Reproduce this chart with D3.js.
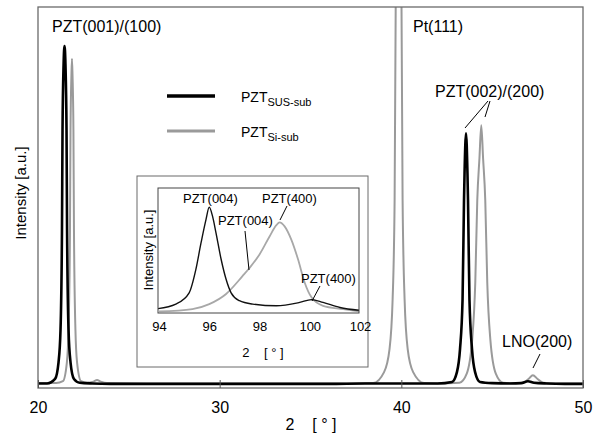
<!DOCTYPE html>
<html>
<head>
<meta charset="utf-8">
<script src="https://cdn.jsdelivr.net/npm/d3@7"></script>
<style>
  html, body { margin: 0; padding: 0; background: #fff; }
  svg { display: block; font-family: "Liberation Sans", Arial, sans-serif; }
</style>
</head>
<body>
<svg id="chart" width="596" height="434"></svg>
<script>
// ---------- main chart data (2θ in degrees, intensity in a.u.) ----------
const xTicks = [20, 30, 40, 50];
const susTheta = [20.0, 20.5, 20.94, 21.13, 21.24, 21.32, 21.35, 21.41, 21.46, 21.51, 21.57, 21.60, 21.68, 21.79, 21.98, 22.3, 23.0, 24, 26, 28, 30, 32, 34, 36, 38, 40, 42, 42.79, 43.06, 43.23, 43.37, 43.45, 43.48, 43.56, 43.64, 43.67, 43.75, 43.89, 44.06, 44.33, 45, 46, 46.6, 46.97, 47.3, 48, 49, 50];
const susInt   = [4, 4, 16, 60, 147, 410, 674, 850, 897, 850, 674, 410, 147, 60, 16, 6, 4, 3, 3, 3, 3, 3, 3, 3, 4, 4, 4, 8, 34, 95, 226, 489, 560, 666, 560, 489, 226, 95, 34, 8, 5, 4, 5, 10, 6, 4, 3, 3];
const siTheta  = [20.0, 21.0, 21.37, 21.59, 21.68, 21.76, 21.79, 21.84, 21.87, 21.90, 21.95, 21.98, 22.06, 22.15, 22.37, 22.7, 23.05, 23.25, 23.45, 23.8, 26, 30, 34, 37, 38.45, 39.05, 39.35, 39.52, 39.63, 39.69, 39.75, 39.85, 39.95, 40.01, 40.07, 40.18, 40.35, 40.65, 41.25, 42, 43.2, 43.6, 43.9, 44.07, 44.18, 44.3, 44.4, 44.5, 44.62, 44.73, 44.9, 45.2, 45.6, 46.3, 46.7, 47.0, 47.24, 47.5, 47.8, 48.5, 50];
const siInt    = [5, 5, 10, 60, 147, 410, 674, 820, 863, 820, 674, 410, 147, 60, 10, 6, 9, 13, 9, 5, 4, 4, 4, 4, 5, 34, 95, 226, 489, 1000, 1800, 3000, 1800, 1000, 489, 226, 95, 34, 5, 4, 6, 30, 120, 271, 489, 600, 687, 600, 489, 271, 120, 30, 6, 5, 6, 16, 26, 16, 6, 4, 4];

// ---------- inset data ----------
const insetTicks = [94, 96, 98, 100, 102];
const inSusTheta = [93.95, 94.67, 95.2, 95.47, 95.67, 95.87, 96.0, 96.13, 96.27, 96.47, 96.67, 96.87, 97.2, 97.73, 98.67, 99.6, 100.07, 100.53, 101.2, 101.96];
const inSusInt   = [3, 7, 17, 38, 61, 82, 93, 85, 70, 47, 29, 17, 10, 7, 5.5, 8.5, 11, 8.5, 4, 1.5];
const inSiTheta  = [94.0, 95.33, 96.0, 96.67, 97.33, 97.6, 98.0, 98.4, 98.67, 98.8, 99.0, 99.27, 99.53, 99.8, 100.07, 100.53, 101.33, 101.96];
const inSiInt    = [0.5, 2.6, 7, 16, 32, 39, 51, 67, 77, 79.5, 76, 64, 47, 26, 13, 5.5, 2.6, 0.5];

const labels = {
  legendSus: ["PZT", "SUS-sub"],
  legendSi: ["PZT", "Si-sub"]
};

const BLACK = "#000";
const GRAY = "#9a9a9a";
const FRAME = "#6a6a6a";

const svg = d3.select("#chart");

// ---------- main layout ----------
const M = { left: 38, right: 583, top: 7, bottom: 388 };
const x = d3.scaleLinear().domain([20, 50]).range([M.left, M.right]);
const y = d3.scaleLinear().domain([0, 1000]).range([385, M.top]);

svg.append("clipPath").attr("id", "mainClip")
  .append("rect").attr("x", M.left).attr("y", M.top)
  .attr("width", M.right - M.left).attr("height", M.bottom - M.top);

const line = d3.line().x(d => x(d[0])).y(d => y(d[1])).curve(d3.curveMonotoneX);
const si = siTheta.map((t, i) => [t, siInt[i]]);
const sus = susTheta.map((t, i) => [t, susInt[i]]);

const g = svg.append("g").attr("clip-path", "url(#mainClip)");
g.append("path").datum(si).attr("d", line)
  .attr("fill", "none").attr("stroke", GRAY).attr("stroke-width", 2).attr("stroke-linejoin", "round");
g.append("path").datum(sus).attr("d", line)
  .attr("fill", "none").attr("stroke", BLACK).attr("stroke-width", 2.6).attr("stroke-linejoin", "round");

// frame
svg.append("rect").attr("x", M.left).attr("y", M.top)
  .attr("width", M.right - M.left).attr("height", M.bottom - M.top)
  .attr("fill", "none").attr("stroke", FRAME).attr("stroke-width", 1.3);

// x axis
const xAxis = d3.axisBottom(x).tickValues(xTicks).tickSizeInner(-8).tickSizeOuter(0).tickPadding(14);
const ax = svg.append("g").attr("transform", `translate(0,${M.bottom})`).call(xAxis);
ax.select(".domain").remove();
ax.selectAll(".tick line").attr("stroke", "#555");
ax.selectAll(".tick text").attr("font-size", 16).attr("fill", "#000")
  .attr("font-family", "'Liberation Sans', Arial, sans-serif");

// axis titles
svg.append("text").attr("x", 311).attr("y", 430).attr("text-anchor", "middle")
  .attr("font-size", 16).attr("xml:space", "preserve").style("white-space", "pre")
  .text("2    [ ° ]");
svg.append("text").attr("transform", "translate(26,193) rotate(-90)")
  .attr("text-anchor", "middle").attr("font-size", 15).text("Intensity [a.u.]");

// peak labels
svg.append("text").attr("x", 52).attr("y", 32).attr("font-size", 16).text("PZT(001)/(100)");
svg.append("text").attr("x", 413).attr("y", 32).attr("font-size", 16).text("Pt(111)");
svg.append("text").attr("x", 435).attr("y", 97).attr("font-size", 16).text("PZT(002)/(200)");
svg.append("text").attr("x", 502).attr("y", 347).attr("font-size", 16).text("LNO(200)");
const leaders = [[488, 101, 465, 128], [490, 101, 485, 117], [540, 354, 533, 368]];
svg.selectAll("line.lead").data(leaders).enter().append("line").attr("class", "lead")
  .attr("x1", d => d[0]).attr("y1", d => d[1]).attr("x2", d => d[2]).attr("y2", d => d[3])
  .attr("stroke", "#000").attr("stroke-width", 1);

// legend
const leg = [
  { y: 96, color: BLACK, w: 3.5, txt: labels.legendSus },
  { y: 131, color: GRAY, w: 3, txt: labels.legendSi }
];
leg.forEach(l => {
  svg.append("line").attr("x1", 167).attr("x2", 215).attr("y1", l.y).attr("y2", l.y)
    .attr("stroke", l.color).attr("stroke-width", l.w);
  const t = svg.append("text").attr("x", 241).attr("y", l.y + 6).attr("font-size", 14);
  t.append("tspan").text(l.txt[0]);
  t.append("tspan").attr("dy", 4).attr("font-size", 11).text(l.txt[1]);
});

// ---------- inset ----------
svg.append("rect").attr("x", 137).attr("y", 176).attr("width", 231).attr("height", 191)
  .attr("fill", "#fff").attr("stroke", FRAME).attr("stroke-width", 1);
const I = { left: 158, right: 359, top: 188, bottom: 313 };
const ix = d3.scaleLinear().domain([94, 102]).range([I.left + 1, I.right + 1]);
const iy = d3.scaleLinear().domain([0, 110]).range([I.bottom - 1, I.top]);
svg.append("clipPath").attr("id", "insetClip")
  .append("rect").attr("x", I.left).attr("y", I.top)
  .attr("width", I.right - I.left).attr("height", I.bottom - I.top);
const iline = d3.line().x(d => ix(d[0])).y(d => iy(d[1])).curve(d3.curveMonotoneX);
const gi = svg.append("g").attr("clip-path", "url(#insetClip)");
gi.append("path").datum(inSiTheta.map((t, i) => [t, inSiInt[i]])).attr("d", iline)
  .attr("fill", "none").attr("stroke", "#a8a8a8").attr("stroke-width", 1.8);
gi.append("path").datum(inSusTheta.map((t, i) => [t, inSusInt[i]])).attr("d", iline)
  .attr("fill", "none").attr("stroke", "#111").attr("stroke-width", 1.4);
svg.append("rect").attr("x", I.left).attr("y", I.top)
  .attr("width", I.right - I.left).attr("height", I.bottom - I.top)
  .attr("fill", "none").attr("stroke", "#444").attr("stroke-width", 1);

const iAxis = d3.axisBottom(ix).tickValues(insetTicks).tickSize(0).tickPadding(9).tickFormat(d3.format("d"));
const iax = svg.append("g").attr("transform", `translate(0,${I.bottom})`).call(iAxis);
iax.select(".domain").remove();
iax.selectAll(".tick text").attr("font-size", 13).attr("fill", "#000")
  .attr("font-family", "'Liberation Sans', Arial, sans-serif");

svg.append("text").attr("x", 263).attr("y", 357).attr("text-anchor", "middle")
  .attr("font-size", 13).attr("xml:space", "preserve").style("white-space", "pre")
  .text("2    [ ° ]");
svg.append("text").attr("transform", "translate(153,250) rotate(-90)")
  .attr("text-anchor", "middle").attr("font-size", 13).text("Intensity [a.u.]");

const insetLabels = [
  { x: 183, y: 203, t: "PZT(004)" },
  { x: 262, y: 203, t: "PZT(400)" },
  { x: 218, y: 225, t: "PZT(004)" },
  { x: 301, y: 283, t: "PZT(400)" }
];
insetLabels.forEach(l => {
  svg.append("text").attr("x", l.x).attr("y", l.y).attr("font-size", 13).text(l.t);
});
const iLeaders = [[245, 231, 249, 270], [287, 206, 280, 220], [320, 286, 312, 301]];
svg.selectAll("line.ilead").data(iLeaders).enter().append("line").attr("class", "ilead")
  .attr("x1", d => d[0]).attr("y1", d => d[1]).attr("x2", d => d[2]).attr("y2", d => d[3])
  .attr("stroke", "#000").attr("stroke-width", 1);
</script>
</body>
</html>
